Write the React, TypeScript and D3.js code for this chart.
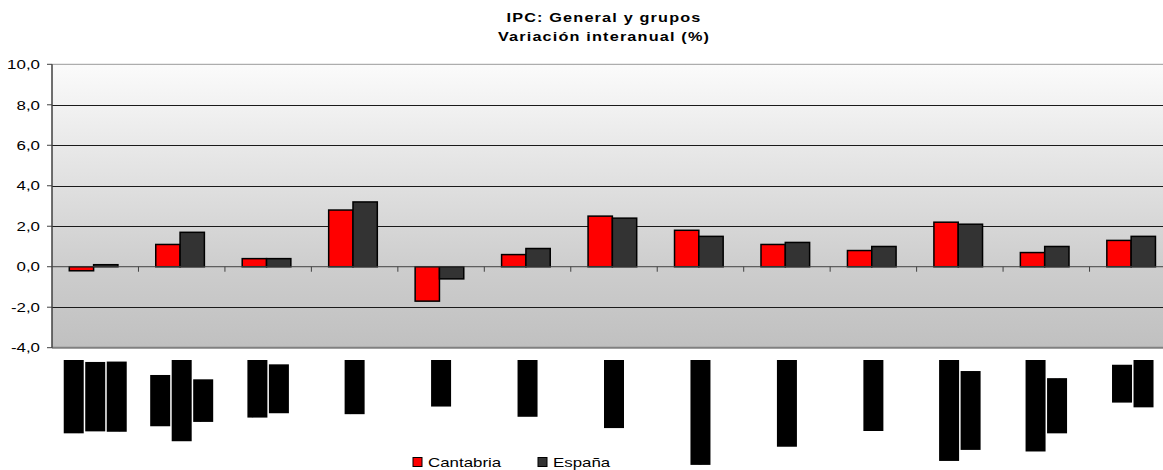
import React, { useEffect, useRef } from 'react';
import * as d3 from 'd3';

// grupos del IPC (etiquetas del eje, partidas en líneas)
const categoryLines: string[][] = [
  ['Alimentos y', 'bebidas no', 'alcohólicas'],
  ['Bebidas', 'alcohólicas y', 'tabaco'],
  ['Vestido y', 'calzado'],
  ['Vivienda'],
  ['Menaje'],
  ['Medicina'],
  ['Transporte'],
  ['Comunicaciones'],
  ['Ocio y cultura'],
  ['Enseñanza'],
  ['Hoteles, cafés y', 'restaurantes'],
  ['Otros bienes y', 'servicios'],
  ['Índice', 'general'],
];
const categories = categoryLines.map(l => l.join(' '));

const cantabria = [-0.2, 1.1, 0.4, 2.8, -1.7, 0.6, 2.5, 1.8, 1.1, 0.8, 2.2, 0.7, 1.3];
const espana = [0.1, 1.7, 0.4, 3.2, -0.6, 0.9, 2.4, 1.5, 1.2, 1.0, 2.1, 1.0, 1.5];

const seriesNames = ['Cantabria', 'España'];
const seriesColors = ['#ff0000', '#333333'];
const yTicks = [-4, -2, 0, 2, 4, 6, 8, 10];

const W = 1163;
const H = 470;
const FONT = "Arial, 'Liberation Sans', sans-serif";
const STRETCH = 1.3;

export default function App() {
  const svgRef = useRef<SVGSVGElement>(null);

  useEffect(() => {
    if (!svgRef.current) return;
    document.body.style.margin = '0';
    const svg = d3.select(svgRef.current);
    svg.selectAll('*').remove();

    const margin = { left: 52, right: -13, top: 64.3, bottom: 122.3 };
    const plotW = W - margin.left - margin.right;
    const plotH = H - margin.top - margin.bottom;

    const x = d3.scaleBand<number>()
      .domain(d3.range(categories.length))
      .range([margin.left, margin.left + plotW]);
    const bw = x.bandwidth();
    const xs = d3.scaleBand<number>()
      .domain([0, 1])
      .range([bw * 0.2, bw * 0.2 + bw * 0.5625]);
    const y = d3.scaleLinear().domain([-4, 10]).range([margin.top + plotH, margin.top]);

    // fondo degradado
    const defs = svg.append('defs');
    const grad = defs.append('linearGradient')
      .attr('id', 'bg').attr('x1', 0).attr('y1', 0).attr('x2', 0).attr('y2', 1);
    grad.append('stop').attr('offset', '0%').attr('stop-color', '#fbfbfb');
    grad.append('stop').attr('offset', '72%').attr('stop-color', '#cdcdcd');
    grad.append('stop').attr('offset', '100%').attr('stop-color', '#c0c0c0');

    svg.append('rect')
      .attr('x', margin.left).attr('y', y(10))
      .attr('width', plotW).attr('height', y(-4) - y(10))
      .attr('fill', 'url(#bg)');

    // rejilla
    svg.append('g')
      .selectAll('line')
      .data(yTicks.filter(t => t !== 10 && t !== -4 && t !== 0))
      .join('line')
      .attr('x1', margin.left).attr('x2', margin.left + plotW)
      .attr('y1', d => Math.round(y(d)) + 0.5).attr('y2', d => Math.round(y(d)) + 0.5)
      .attr('stroke', '#1a1a1a').attr('stroke-width', 1);

    svg.append('line')
      .attr('x1', margin.left).attr('x2', margin.left + plotW)
      .attr('y1', y(10)).attr('y2', y(10))
      .attr('stroke', '#999').attr('stroke-width', 1);
    svg.append('line')
      .attr('x1', margin.left).attr('x2', margin.left + plotW)
      .attr('y1', y(-4)).attr('y2', y(-4))
      .attr('stroke', '#808080').attr('stroke-width', 2);

    // barras
    const series = [cantabria, espana];
    series.forEach((vals, si) => {
      svg.append('g')
        .selectAll('rect')
        .data(vals)
        .join('rect')
        .attr('x', (_, i) => (x(i) as number) + (xs(si) as number))
        .attr('width', xs.bandwidth())
        .attr('y', d => y(Math.max(0, d)))
        .attr('height', d => Math.abs(y(d) - y(0)))
        .attr('fill', seriesColors[si])
        .attr('stroke', '#000')
        .attr('stroke-width', 1.5);
    });

    // eje de categorías en 0
    svg.append('line')
      .attr('x1', margin.left).attr('x2', margin.left + plotW)
      .attr('y1', y(0)).attr('y2', y(0))
      .attr('stroke', '#404040').attr('stroke-width', 1);
    svg.append('g')
      .selectAll('line')
      .data(d3.range(1, categories.length))
      .join('line')
      .attr('x1', i => x(i) as number).attr('x2', i => x(i) as number)
      .attr('y1', y(0)).attr('y2', y(0) + 5)
      .attr('stroke', '#404040').attr('stroke-width', 1);

    // eje Y
    svg.append('line')
      .attr('x1', margin.left).attr('x2', margin.left)
      .attr('y1', y(10)).attr('y2', y(-4))
      .attr('stroke', '#404040').attr('stroke-width', 1.5);
    const fmt = (v: number) => v.toFixed(1).replace('.', ',');
    const yAxis = svg.append('g');
    yAxis.selectAll('line')
      .data(yTicks)
      .join('line')
      .attr('x1', margin.left - 5).attr('x2', margin.left)
      .attr('y1', d => y(d)).attr('y2', d => y(d))
      .attr('stroke', '#404040');
    yAxis.selectAll('text')
      .data(yTicks)
      .join('text')
      .attr('transform', d => `translate(40,${y(d)}) scale(${STRETCH},1)`)
      .attr('text-anchor', 'end')
      .attr('dominant-baseline', 'central')
      .attr('font-family', FONT)
      .attr('font-size', 13)
      .attr('fill', '#000')
      .text(d => fmt(d));

    // etiquetas de categoría (giradas, se ven como bloques)
    const labelTop = y(-4) + 12.3;
    const pitch = 21.5;
    const labels = svg.append('g');
    categoryLines.forEach((lines, i) => {
      const cx = (x(i) as number) + bw / 2;
      const g = labels.append('g');
      const texts = lines.map((ln, j) => {
        const lx = cx + (j - (lines.length - 1) / 2) * pitch;
        return g.append('text')
          .attr('font-family', FONT)
          .attr('font-size', 14.2)
          .attr('fill', '#000')
          .attr('text-anchor', 'middle')
          .attr('dominant-baseline', 'central')
          .attr('data-x', lx)
          .text(ln);
      });
      const lens = texts.map(t => (t.node() as SVGTextElement).getComputedTextLength());
      const maxLen = d3.max(lens) || 0;
      const cy = labelTop + maxLen / 2;
      texts.forEach((t, j) => {
        const lx = +t.attr('data-x');
        g.insert('rect', 'text')
          .attr('x', lx - 10).attr('width', 20)
          .attr('y', cy - lens[j] / 2).attr('height', lens[j])
          .attr('fill', '#000');
        t.attr('transform', `translate(${lx},${cy}) rotate(-90)`);
      });
    });

    // título
    const title = svg.append('g').attr('font-family', FONT).attr('font-weight', 'bold');
    [['IPC: General y grupos', 22.3], ['Variación interanual (%)', 41]].forEach(([t, ty]) => {
      title.append('text')
        .attr('transform', `translate(604,${ty}) scale(${STRETCH},1)`)
        .attr('text-anchor', 'middle')
        .attr('font-size', 12.5)
        .attr('letter-spacing', 0.9)
        .text(t as string);
    });

    // leyenda
    const legendX = [413, 538];
    const legend = svg.append('g');
    seriesNames.forEach((name, si) => {
      legend.append('rect')
        .attr('x', legendX[si]).attr('y', 457.5)
        .attr('width', 9).attr('height', 9)
        .attr('fill', seriesColors[si]).attr('stroke', '#000').attr('stroke-width', 1);
      legend.append('text')
        .attr('transform', `translate(${legendX[si] + 15},466.5) scale(${STRETCH},1)`)
        .attr('font-family', FONT)
        .attr('font-size', 13)
        .text(name);
    });
  }, []);

  return (
    <div style={{ position: 'absolute', left: 0, top: 0, width: W, height: H, overflow: 'hidden', background: '#fff' }}>
      <svg ref={svgRef} width={W} height={H} style={{ display: 'block' }} />
    </div>
  );
}
